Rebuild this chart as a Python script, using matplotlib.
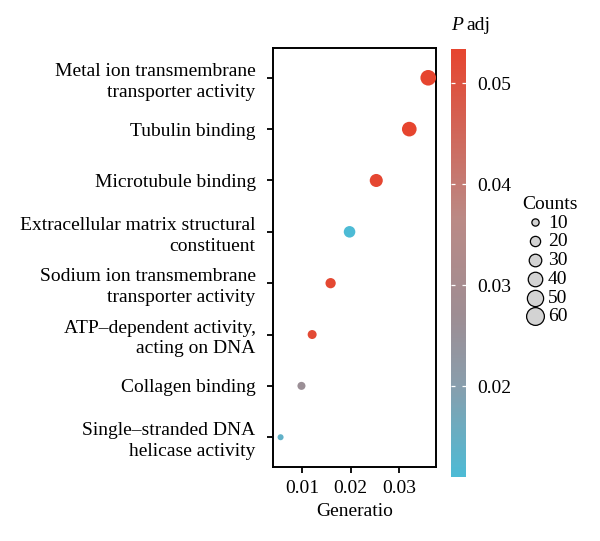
"""
GO enrichment dot plot: GeneRatio vs term, coloured by adjusted P, sized by counts.
"""

import matplotlib
matplotlib.use("Agg")
import matplotlib.pyplot as plt
import numpy as np
from matplotlib.colors import LinearSegmentedColormap, Normalize

plt.rcParams["font.family"] = ["Liberation Serif", "DejaVu Serif"]

# terms listed top to bottom
TERMS = [
    "Metal ion transmembrane\ntransporter activity",
    "Tubulin binding",
    "Microtubule binding",
    "Extracellular matrix structural\nconstituent",
    "Sodium ion transmembrane\ntransporter activity",
    "ATP\u2013dependent activity,\nacting on DNA",
    "Collagen binding",
    "Single\u2013stranded DNA\nhelicase activity",
]
GENE_RATIO = [0.0360, 0.0321, 0.0253, 0.0198, 0.0159, 0.0121, 0.0099, 0.0056]
P_ADJ = [0.0534, 0.0533, 0.0530, 0.0110, 0.0526, 0.0522, 0.0262, 0.0140]
COUNTS = [60, 53, 42, 33, 26, 20, 16, 9]

X_TICKS = [0.01, 0.02, 0.03]
CBAR_TICKS = [0.02, 0.03, 0.04, 0.05]
LEGEND_COUNTS = [10, 20, 30, 40, 50, 60]

FS = 14
cmap = LinearSegmentedColormap.from_list(
    "padj",
    [(0.0, "#4DBBD5"), (0.22, "#8A9DAB"), (0.38, "#9E8D93"),
     (0.6, "#BA8A86"), (1.0, "#E6452F")])
norm = Normalize(vmin=min(P_ADJ), vmax=max(P_ADJ))


def size_of(c):
    return 2.1 * np.asarray(c, dtype=float)


def main() -> None:
    fig = plt.figure(figsize=(6.0, 5.41), dpi=100)
    ax = fig.add_axes([273 / 600, 1 - 467 / 541, 163 / 600, 419 / 541])

    n = len(TERMS)
    ypos = np.arange(n, 0, -1)
    sc = ax.scatter(GENE_RATIO, ypos, s=size_of(COUNTS), c=P_ADJ,
                    cmap=cmap, norm=norm, linewidths=0, zorder=3)

    ax.set_ylim(0.42, n + 0.58)
    ax.set_xlim(0.00404, 0.0376)
    ax.set_yticks(ypos)
    ax.set_yticklabels(TERMS, fontsize=FS, linespacing=1.3, ha="right")
    ax.set_xticks(X_TICKS)
    ax.set_xticklabels([f"{t:.2f}" for t in X_TICKS], fontsize=FS)
    ax.set_xlabel("Generatio", fontsize=FS, labelpad=4)
    ax.tick_params(length=4.5, width=1.3, pad=5, color="black")
    ax.tick_params(axis="y", pad=8)
    for sp in ax.spines.values():
        sp.set_linewidth(1.4)

    # colour bar
    cax = fig.add_axes([451 / 600, 1 - 477 / 541, 15 / 600, 428 / 541])
    cb = fig.colorbar(sc, cax=cax)
    cb.outline.set_visible(False)
    cb.set_ticks(CBAR_TICKS)
    cb.set_ticklabels([f"{t:.2f}" for t in CBAR_TICKS])
    cax.tick_params(direction="in", length=3, width=0.9, color="white",
                    left=True, right=True, labelsize=FS, pad=8)
    fig.text(451 / 600, 1 - 30 / 541, "P", fontsize=FS, style="italic",
             ha="left", va="baseline")
    fig.text(466 / 600, 1 - 30 / 541, "adj", fontsize=FS,
             ha="left", va="baseline")

    # size legend
    handles = [
        ax.scatter([], [], s=size_of(c) * 1.3, color="#D3D3D3",
                   edgecolors="black", linewidths=0.9)
        for c in LEGEND_COUNTS
    ]
    leg = fig.legend(handles, [str(c) for c in LEGEND_COUNTS],
                     title="Counts", loc="upper left",
                     bbox_to_anchor=(513 / 600, 1 - 186 / 541),
                     frameon=False, fontsize=FS, title_fontsize=FS,
                     labelspacing=0.06, handletextpad=0.0,
                     borderpad=0, handlelength=1.3)
    leg._legend_box.align = "left"

    fig.savefig("out.png", dpi=100)


if __name__ == "__main__":
    main()
